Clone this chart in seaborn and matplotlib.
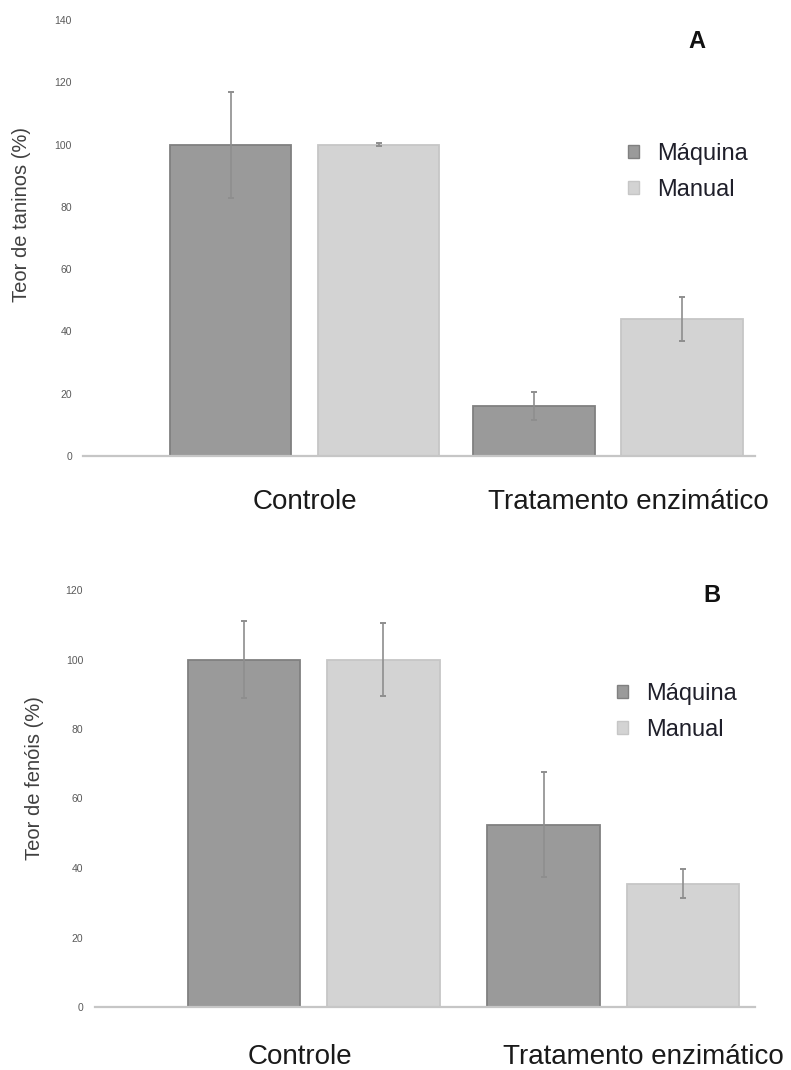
import matplotlib
matplotlib.use("Agg")
import matplotlib.pyplot as plt
import matplotlib.transforms as mtransforms
from matplotlib.patches import Patch
import seaborn as sns
import pandas as pd

# Categories and methods
categorias = ["Controle", "Tratamento enzimático"]
metodos = ["Máquina", "Manual"]

# Panel A: tannin content (%)
taninos_maquina = [100, 16]
taninos_manual = [100, 44]
taninos_erro_maquina = [17, 4.5]
taninos_erro_manual = [0.4, 7]

# Panel B: phenol content (%)
fenois_maquina = [100, 52.5]
fenois_manual = [100, 35.5]
fenois_erro_maquina = [11, 15]
fenois_erro_manual = [10.5, 4.2]

sns.set_style("white")
plt.rcParams["font.family"] = ["Liberation Sans", "DejaVu Sans"]

cores = {"Máquina": "#9a9a9a", "Manual": "#d3d3d3"}
bordas = {"Máquina": "#808080", "Manual": "#c6c6c6"}

W, H = 791, 1070
fig = plt.figure(figsize=(W / 100, H / 100), dpi=100)


def painel(rect, maquina, manual, erro_maq, erro_man, ymax, xlim, width, gap,
           ylabel, ylabel_pos, letra, letra_pos, leg_pos, lab_pad, tick_pad,
           lab_shift):
    left, top, right, bottom = rect
    ax = fig.add_axes([left / W, 1 - bottom / H, (right - left) / W, (bottom - top) / H])
    df = pd.DataFrame({
        "categoria": categorias * 2,
        "metodo": [metodos[0]] * 2 + [metodos[1]] * 2,
        "valor": list(maquina) + list(manual),
    })
    sns.barplot(data=df, x="categoria", y="valor", hue="metodo", order=categorias,
                hue_order=metodos, palette=cores, width=width, gap=gap,
                errorbar=None, linewidth=1.3, ax=ax)
    erros = [erro_maq, erro_man]
    for cont, met, errs in zip(ax.containers, metodos, erros):
        for bar, e in zip(cont, errs):
            bar.set_edgecolor(bordas[met])
            xc = bar.get_x() + bar.get_width() / 2
            ax.errorbar(xc, bar.get_height(), yerr=e, color="#8e8e8e", lw=1.2,
                        capsize=2.5, capthick=1.4, zorder=5)
    if ax.get_legend() is not None:
        ax.get_legend().remove()

    ax.set_ylim(0, ymax)
    ax.set_yticks(range(0, ymax + 1, 20))
    ax.set_xlim(*xlim)
    ax.set_xlabel("")
    ax.set_ylabel("")
    for s in ["left", "top", "right"]:
        ax.spines[s].set_visible(False)
    ax.spines["bottom"].set_color("#c6c6c6")
    ax.spines["bottom"].set_linewidth(1.6)
    ax.tick_params(axis="y", length=0, labelsize=7.5, labelcolor="#5a5a5a", pad=tick_pad)
    ax.tick_params(axis="x", length=0, labelsize=20, labelcolor="#1a1a1a", pad=lab_pad)
    for lab, dx in zip(ax.get_xticklabels(), lab_shift):
        lab.set_transform(lab.get_transform() +
                          mtransforms.ScaledTranslation(dx / 100, 0, fig.dpi_scale_trans))

    fig.text(ylabel_pos[0] / W, 1 - ylabel_pos[1] / H, ylabel, rotation=90,
             ha="center", va="center", fontsize=14.5, color="#404040")
    fig.text(letra_pos[0] / W, 1 - letra_pos[1] / H, letra, ha="center", va="center",
             fontsize=17, fontweight="bold", color="#111111")

    handles = [Patch(facecolor=cores[m], edgecolor=bordas[m]) for m in metodos]
    ax.legend(handles, metodos, loc="center left",
              bbox_to_anchor=(leg_pos[0] / W, 1 - leg_pos[1] / H),
              bbox_transform=fig.transFigure, frameon=False, fontsize=17,
              handlelength=0.47, handleheight=0.47, handletextpad=0.75,
              labelspacing=0.58, borderpad=0, borderaxespad=0,
              labelcolor="#1f1f2a")
    return ax


painel((83, 20, 755, 456), taninos_maquina, taninos_manual,
       taninos_erro_maquina, taninos_erro_manual, 140, (-0.73, 1.484), 0.975, 0.18,
       "Teor de taninos (%)", (22, 214), "A", (697, 42), (628, 172),
       lab_pad=24, tick_pad=8, lab_shift=(0, 20))

painel((95, 590, 755, 1007), fenois_maquina, fenois_manual,
       fenois_erro_maquina, fenois_erro_manual, 120, (-0.730, 1.473), 0.93, 0.19,
       "Teor de fenóis (%)", (35, 778), "B", (712, 595), (617, 712),
       lab_pad=27, tick_pad=8.5, lab_shift=(-14, 30))

fig.savefig("out.png", dpi=100)
